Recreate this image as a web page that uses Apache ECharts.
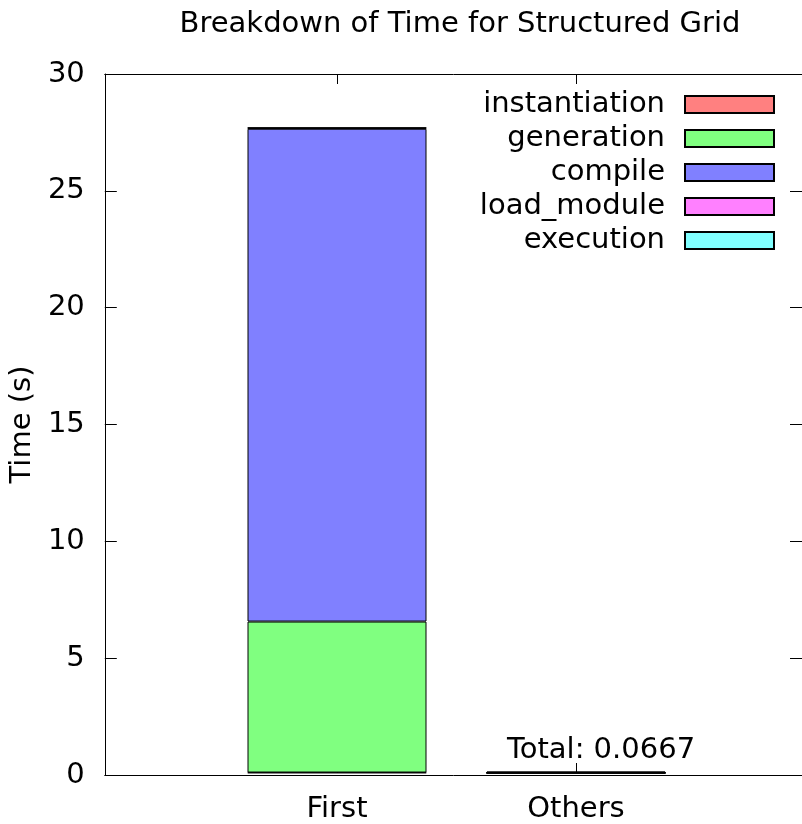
<!DOCTYPE html>
<html>
<head>
<meta charset="utf-8">
<script src="https://cdn.jsdelivr.net/npm/echarts@6/dist/echarts.min.js"></script>
<style>
  html, body { margin: 0; padding: 0; background: #fff; }
  #chart { width: 802px; height: 824px; }
</style>
</head>
<body>
<div id="chart"></div>
<script>
// Runs that are compared
const categories = ['First', 'Others'];

// Seconds spent in each phase, stacked bottom to top
const instantiation = [0.02, 0.0067];
const generation    = [6.48, 0.0];
const compile       = [21.15, 0.0];
const load_module   = [0.03, 0.01];
const execution     = [0.02, 0.05];

const yTicks = [0, 5, 10, 15, 20, 25, 30];

const phases = [
  { name: 'instantiation', values: instantiation, color: '#ff8080' },
  { name: 'generation',    values: generation,    color: '#80ff80' },
  { name: 'compile',       values: compile,       color: '#8080ff' },
  { name: 'load_module',   values: load_module,   color: '#ff80ff' },
  { name: 'execution',     values: execution,     color: '#80ffff' }
];

const FONT = 'DejaVu Sans';
const FS = 29;
const othersIdx = categories.indexOf('Others');
const othersTotal = phases.reduce((s, p) => s + p.values[othersIdx], 0);

// Bars live in an inner grid whose category bands are centred on the run positions;
// the outer grid draws the framed plot box and the time axis.
const series = phases.map((p, k) => ({
  name: p.name,
  type: 'bar',
  stack: 'time',
  xAxisIndex: 2,
  yAxisIndex: 2,
  barWidth: 179,
  itemStyle: { color: p.color, borderColor: '#000', borderWidth: 1 },
  data: p.values.map((v, i) => {
    const d = { value: v };
    if (k === phases.length - 1 && i === othersIdx) {
      d.label = {
        show: true,
        position: 'top',
        offset: [25, -1],
        formatter: 'Total: ' + othersTotal.toFixed(4),
        fontFamily: FONT,
        fontSize: FS,
        color: '#000'
      };
    }
    return d;
  }),
  emphasis: { disabled: true }
}));

const frameX = pos => ({
  type: 'value', gridIndex: 0, position: pos, min: 0, max: 1,
  axisLine: { show: true, onZero: false, lineStyle: { color: '#000', width: 1 } },
  axisTick: { show: false }, axisLabel: { show: false }, splitLine: { show: false }
});

const runAxis = (pos, showLabel) => ({
  type: 'category', gridIndex: 1, position: pos, data: categories,
  axisLine: { show: false },
  axisTick: { show: true, inside: true, alignWithLabel: true, length: 10, lineStyle: { color: '#000' } },
  axisLabel: { show: showLabel, margin: 22, fontFamily: FONT, fontSize: FS, color: '#000' },
  splitLine: { show: false }
});

const chart = echarts.init(document.getElementById('chart'), null, { renderer: 'canvas' });
chart.setOption({
  animation: false,
  backgroundColor: '#fff',
  title: {
    text: 'Breakdown of Time for Structured Grid',
    left: 455,
    top: 5,
    textAlign: 'center',
    textStyle: { fontFamily: FONT, fontSize: FS, fontWeight: 'normal', color: '#000' }
  },
  legend: {
    orient: 'vertical',
    right: 27,
    top: 90,
    padding: 0,
    align: 'right',
    itemWidth: 89,
    itemHeight: 17,
    itemGap: 5,
    icon: 'rect',
    selectedMode: false,
    textStyle: { fontFamily: FONT, fontSize: FS, color: '#000', padding: [0, 15, 0, 0] },
    data: phases.map(p => p.name)
  },
  grid: [
    { left: 99, right: -5, top: 74, bottom: 49, containLabel: false },
    { left: 217.5, right: 106.5, top: 74, bottom: 49, containLabel: false }
  ],
  xAxis: [
    frameX('bottom'),
    frameX('top'),
    runAxis('bottom', true),
    runAxis('top', false)
  ],
  yAxis: [
    {
      type: 'value', gridIndex: 0, position: 'left',
      min: 0, max: 30, interval: 5,
      name: 'Time (s)',
      nameLocation: 'middle',
      nameRotate: 90,
      nameGap: 60,
      nameTextStyle: { fontFamily: FONT, fontSize: FS, color: '#000' },
      axisLine: { show: true, onZero: false, lineStyle: { color: '#000', width: 1 } },
      axisTick: { show: true, inside: true, length: 12, lineStyle: { color: '#000' } },
      axisLabel: {
        margin: 20,
        fontFamily: FONT, fontSize: FS, color: '#000',
        formatter: v => (yTicks.includes(v) ? String(v) : '')
      },
      splitLine: { show: false }
    },
    {
      type: 'value', gridIndex: 0, position: 'right',
      min: 0, max: 30, interval: 5,
      axisLine: { show: true, onZero: false, lineStyle: { color: '#000', width: 1 } },
      axisTick: { show: true, inside: true, length: 12, lineStyle: { color: '#000' } },
      axisLabel: { show: false },
      splitLine: { show: false }
    },
    {
      type: 'value', gridIndex: 1,
      min: 0, max: 30, interval: 5,
      axisLine: { show: false }, axisTick: { show: false },
      axisLabel: { show: false }, splitLine: { show: false }
    }
  ],
  series: series
});
</script>
</body>
</html>
